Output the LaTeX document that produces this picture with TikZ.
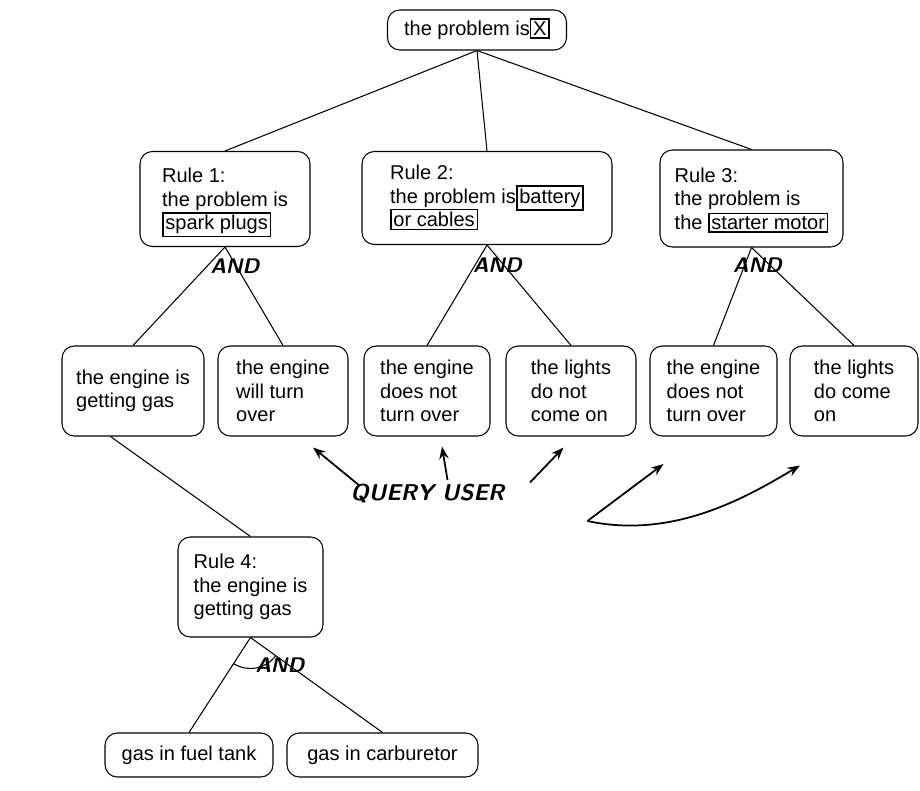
\documentclass[tikz,border=0pt]{standalone}
\usepackage{fontspec}
\setmainfont{Liberation Sans}
\usetikzlibrary{arrows.meta,calc}
% hand-drawn box round a word, kept out of the line spacing
\newcommand{\hlbox}[1]{\smash{{\setlength{\fboxsep}{1pt}\setlength{\fboxrule}{0.9pt}\fbox{#1}}}}
\tikzset{
  fact/.style={draw,rounded corners=7pt,align=left,inner sep=0pt,
    font=\fontsize{11.4}{13.4}\selectfont,line width=0.6pt},
  link/.style={line width=0.6pt},
  hand/.style={font=\sffamily\bfseries\itshape\fontsize{12}{12}\selectfont},
  handarrow/.style={line width=1pt,-{Stealth[length=2.5mm]}},
}
\begin{document}
\begin{tikzpicture}
  \useasboundingbox (0,0) rectangle (18.4,-15.8);
  % ---------- goal and the three rules ----------
  \node[fact,minimum width=3.58cm,minimum height=0.8cm] (top) at (9.54,-0.6) {the problem is\hlbox{X}};
  \node[fact,minimum width=3.4cm,minimum height=1.9cm] (r1) at (4.5,-3.98)
    {Rule 1:\\the problem is\\\hlbox{spark plugs}};
  \node[fact,minimum width=5.0cm,minimum height=1.86cm] (r2) at (9.74,-3.96)
    {Rule 2:\\the problem is\hlbox{battery}\\\hlbox{or cables}\phantom{ battery}};
  \node[fact,minimum width=3.66cm,minimum height=1.94cm] (r3) at (15.03,-3.97)
    {Rule 3:\\the problem is\\the \hlbox{starter motor}};
  \draw[link] (top.south) -- (r1.north);
  \draw[link] (top.south) -- (r2.north);
  \draw[link] (top.south) -- (r3.north);
  % ---------- premises ----------
  \node[fact,minimum width=2.84cm,minimum height=1.8cm] (l1) at (2.66,-7.82) {the engine is\\getting gas};
  \node[fact,minimum width=2.6cm,minimum height=1.8cm] (l2) at (5.66,-7.82) {the engine\\will turn\\over};
  \node[fact,minimum width=2.52cm,minimum height=1.8cm] (l3) at (8.54,-7.82) {the engine\\does not\\turn over};
  \node[fact,minimum width=2.6cm,minimum height=1.8cm] (l4) at (11.42,-7.82) {the lights\\do not\\come on};
  \node[fact,minimum width=2.54cm,minimum height=1.8cm] (l5) at (14.27,-7.82) {the engine\\does not\\turn over};
  \node[fact,minimum width=2.56cm,minimum height=1.8cm] (l6) at (17.08,-7.82) {the lights\\do come\\on\phantom{me}};
  \draw[link] (r1.south) -- (l1.north);
  \draw[link] (r1.south) -- (l2.north);
  \draw[link] (r2.south) -- (l3.north);
  \draw[link] (r2.south) -- (l4.north);
  \draw[link] (r3.south) -- (l5.north);
  \draw[link] (r3.south) -- (l6.north);
  % ---------- rule 4 ----------
  \node[fact,minimum width=2.9cm,minimum height=2.0cm] (r4) at (5.01,-11.74)
    {Rule 4:\\the engine is\\getting gas};
  \node[fact,minimum width=3.36cm,minimum height=0.88cm] (fuel) at (3.78,-15.1) {gas in fuel tank};
  \node[fact,minimum width=3.82cm,minimum height=0.88cm] (carb) at (7.65,-15.1) {gas in carburetor};
  \draw[link] ([xshift=-0.45cm]l1.south) -- (r4.north);
  \draw[link] (r4.south) -- (fuel.north);
  \draw[link] (r4.south) -- (carb.north);
  \draw[link] ($(r4.south)+(237:0.62)$) arc (237:324:0.62);
  % ---------- hand notes ----------
  \node[hand] (and1) at (4.7,-5.32) {AND};
  \node[hand] (and2) at (9.95,-5.3) {AND};
  \node[hand] (and3) at (15.15,-5.3) {AND};
  \node[hand] (and4) at (5.6,-13.3) {AND};
  \node[hand,font=\sffamily\bfseries\itshape\fontsize{13}{13}\selectfont] (query) at (8.55,-9.88) {QUERY USER};
  \coordinate (q1) at (7.2,-9.72);
  \coordinate (q2) at (8.95,-9.6);
  \coordinate (q3) at (10.6,-9.65);
  \coordinate (q4) at (11.75,-10.42);
  \draw[handarrow] (q1) -- ($(l2.south)+(0.6,-0.22)$);
  \draw[handarrow] (q2) -- ($(l3.south)+(0.3,-0.2)$);
  \draw[handarrow] (q3) -- ($(l4.south)+(-0.15,-0.22)$);
  \draw[handarrow] (q4) -- ($(l5.south)+(-1.0,-0.55)$);
  \draw[handarrow] (q4) .. controls (13.5,-10.8) and (15,-9.9) .. ($(l6.south)+(-1.08,-0.58)$);
\end{tikzpicture}
\end{document}
